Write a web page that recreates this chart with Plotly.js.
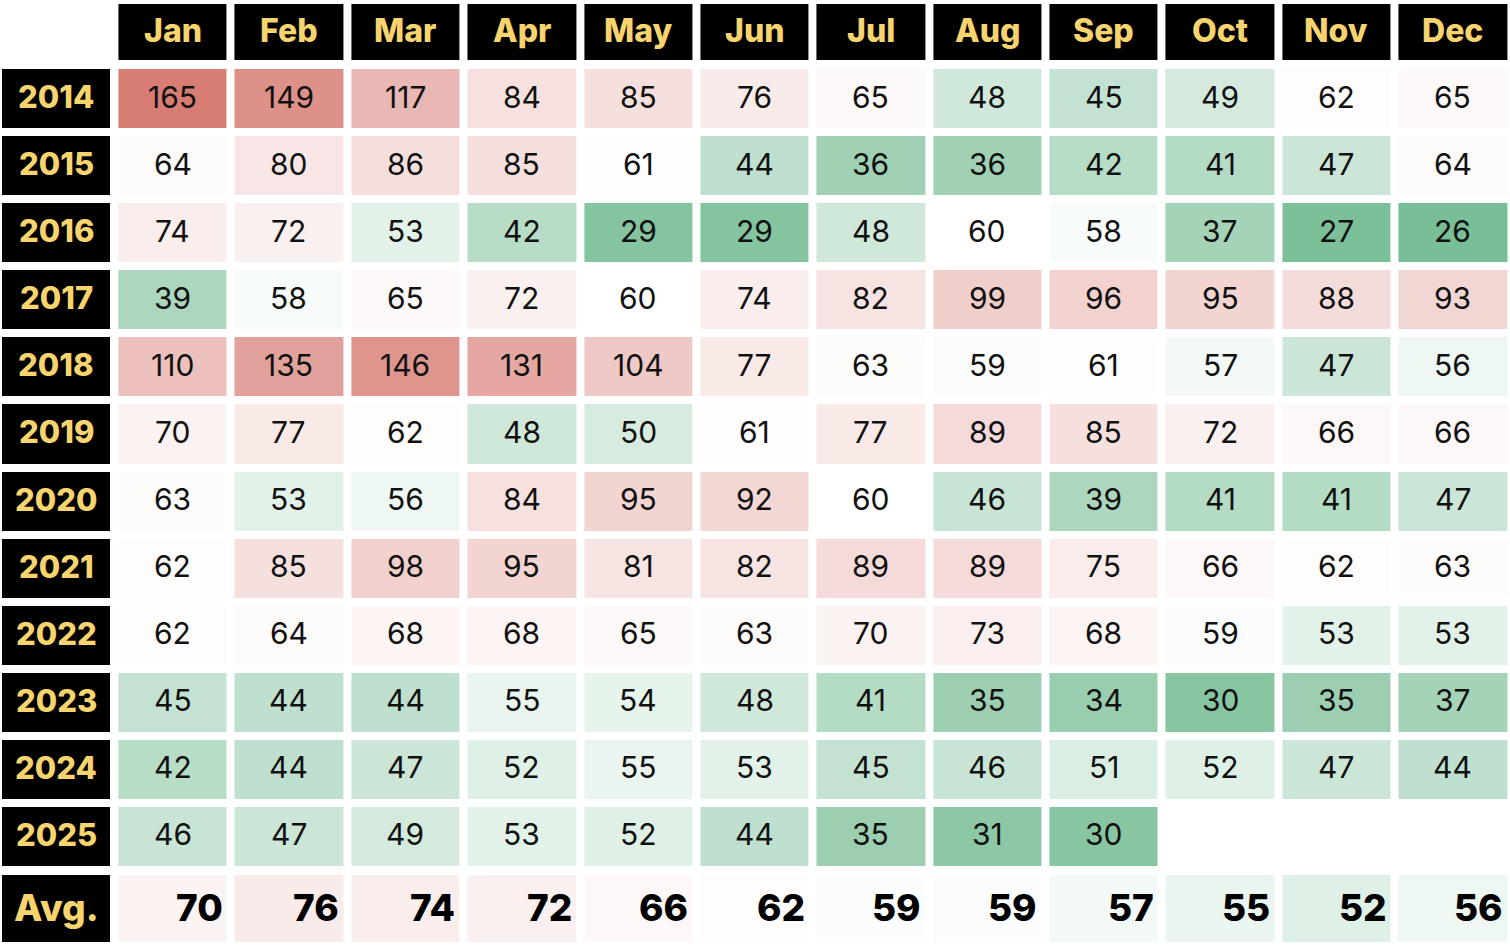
<!DOCTYPE html>
<html>
<head>
<meta charset="utf-8">
<script src="https://cdn.plot.ly/plotly-3.0.1.min.js"></script>
<style>html,body{margin:0;padding:0;background:#fff;}#chart{width:1510px;height:946px;}</style>
</head>
<body>
<div id="chart"></div>
<script>
const months = ['Jan','Feb','Mar','Apr','May','Jun','Jul','Aug','Sep','Oct','Nov','Dec'];
const years = ['2014','2015','2016','2017','2018','2019','2020','2021','2022','2023','2024','2025'];
const v2014 = [165,149,117,84,85,76,65,48,45,49,62,65];
const v2015 = [64,80,86,85,61,44,36,36,42,41,47,64];
const v2016 = [74,72,53,42,29,29,48,60,58,37,27,26];
const v2017 = [39,58,65,72,60,74,82,99,96,95,88,93];
const v2018 = [110,135,146,131,104,77,63,59,61,57,47,56];
const v2019 = [70,77,62,48,50,61,77,89,85,72,66,66];
const v2020 = [63,53,56,84,95,92,60,46,39,41,41,47];
const v2021 = [62,85,98,95,81,82,89,89,75,66,62,63];
const v2022 = [62,64,68,68,65,63,70,73,68,59,53,53];
const v2023 = [45,44,44,55,54,48,41,35,34,30,35,37];
const v2024 = [42,44,47,52,55,53,45,46,51,52,47,44];
const v2025 = [46,47,49,53,52,44,35,31,30,null,null,null];
const avgLabel = 'Avg.';
const avgValues = [70,76,74,72,66,62,59,59,57,55,52,56];

const body = [v2014,v2015,v2016,v2017,v2018,v2019,v2020,v2021,v2022,v2023,v2024,v2025];

const W = 1510, H = 946;
const zmin = 26, zmax = 165, zmid = 60;
const colorscale = [[0,'#78be96'],[(zmid-zmin)/(zmax-zmin),'#ffffff'],[1,'#d77d74']];
const black = [[0,'#000000'],[1,'#000000']];
const GOLD = '#f7d46e';
const FONT = 'Inter, "Open Sans", sans-serif';
const gap = 8;

const colX = months.map((m,i)=>i+1);
const rowY = years.map((y,i)=>i);

const common = {type:'heatmap', xgap:gap, ygap:gap, showscale:false, hoverinfo:'skip'};

const traces = [
  Object.assign({}, common, {x:colX, y:[0], z:[months.map(()=>1)], colorscale:black, zmin:0, zmax:1, xaxis:'x', yaxis:'y'}),
  Object.assign({}, common, {x:colX, y:rowY, z:body, colorscale:colorscale, zmin:zmin, zmax:zmax, xaxis:'x', yaxis:'y2'}),
  Object.assign({}, common, {x:[0], y:rowY, z:years.map(()=>[1]), colorscale:black, zmin:0, zmax:1, xaxis:'x', yaxis:'y2'}),
  Object.assign({}, common, {x:colX, y:[0], z:[avgValues], colorscale:colorscale, zmin:zmin, zmax:zmax, xaxis:'x', yaxis:'y3'}),
  Object.assign({}, common, {x:[0], y:[0], z:[[1]], colorscale:black, zmin:0, zmax:1, xaxis:'x', yaxis:'y3'})
];

const pitchX = (W + 1) / 13;
const annotations = [];
months.forEach((m,i)=>{
  annotations.push({x:i+1, y:0, xref:'x', yref:'y', text:m, showarrow:false, yshift:2,
    font:{family:FONT, size:32, color:GOLD, weight:800}});
});
years.forEach((yr,r)=>{
  annotations.push({x:0, y:r, xref:'x', yref:'y2', text:yr, showarrow:false, yshift:2,
    font:{family:FONT, size:31, color:GOLD, weight:800}});
  body[r].forEach((v,c)=>{
    if (v === null) return;
    annotations.push({x:c+1, y:r, xref:'x', yref:'y2', text:String(v), showarrow:false, yshift:2,
      font:{family:FONT, size:30, color:'#111111', weight:400}});
  });
});
annotations.push({x:0, y:0, xref:'x', yref:'y3', text:avgLabel, showarrow:false, yshift:1,
  font:{family:FONT, size:37, color:GOLD, weight:800}});
avgValues.forEach((v,c)=>{
  annotations.push({x:c+1, y:0, xref:'x', yref:'y3', text:String(v), showarrow:false,
    xanchor:'right', xshift:pitchX/2 - 6, yshift:1,
    font:{family:FONT, size:37, color:'#000000', weight:800}});
});

const hidden = {visible:false, showgrid:false, zeroline:false, fixedrange:true};
const layout = {
  width:W, height:H,
  margin:{l:0,r:0,t:0,b:0,pad:0},
  paper_bgcolor:'#ffffff', plot_bgcolor:'#ffffff',
  showlegend:false,
  xaxis:Object.assign({}, hidden, {domain:[0,1], range:[-0.5 + 2/pitchX, 12.5 - 1/pitchX]}),
  yaxis:Object.assign({}, hidden, {domain:[1-64/H, 1], range:[-0.5, 0.5]}),
  yaxis2:Object.assign({}, hidden, {domain:[1-870/H, 1-65/H], range:[years.length-0.5, -0.5]}),
  yaxis3:Object.assign({}, hidden, {domain:[0, 1-871/H], range:[-0.5, 0.5]}),
  annotations:annotations
};

Plotly.newPlot('chart', traces, layout, {displayModeBar:false, staticPlot:true});
</script>
</body>
</html>
